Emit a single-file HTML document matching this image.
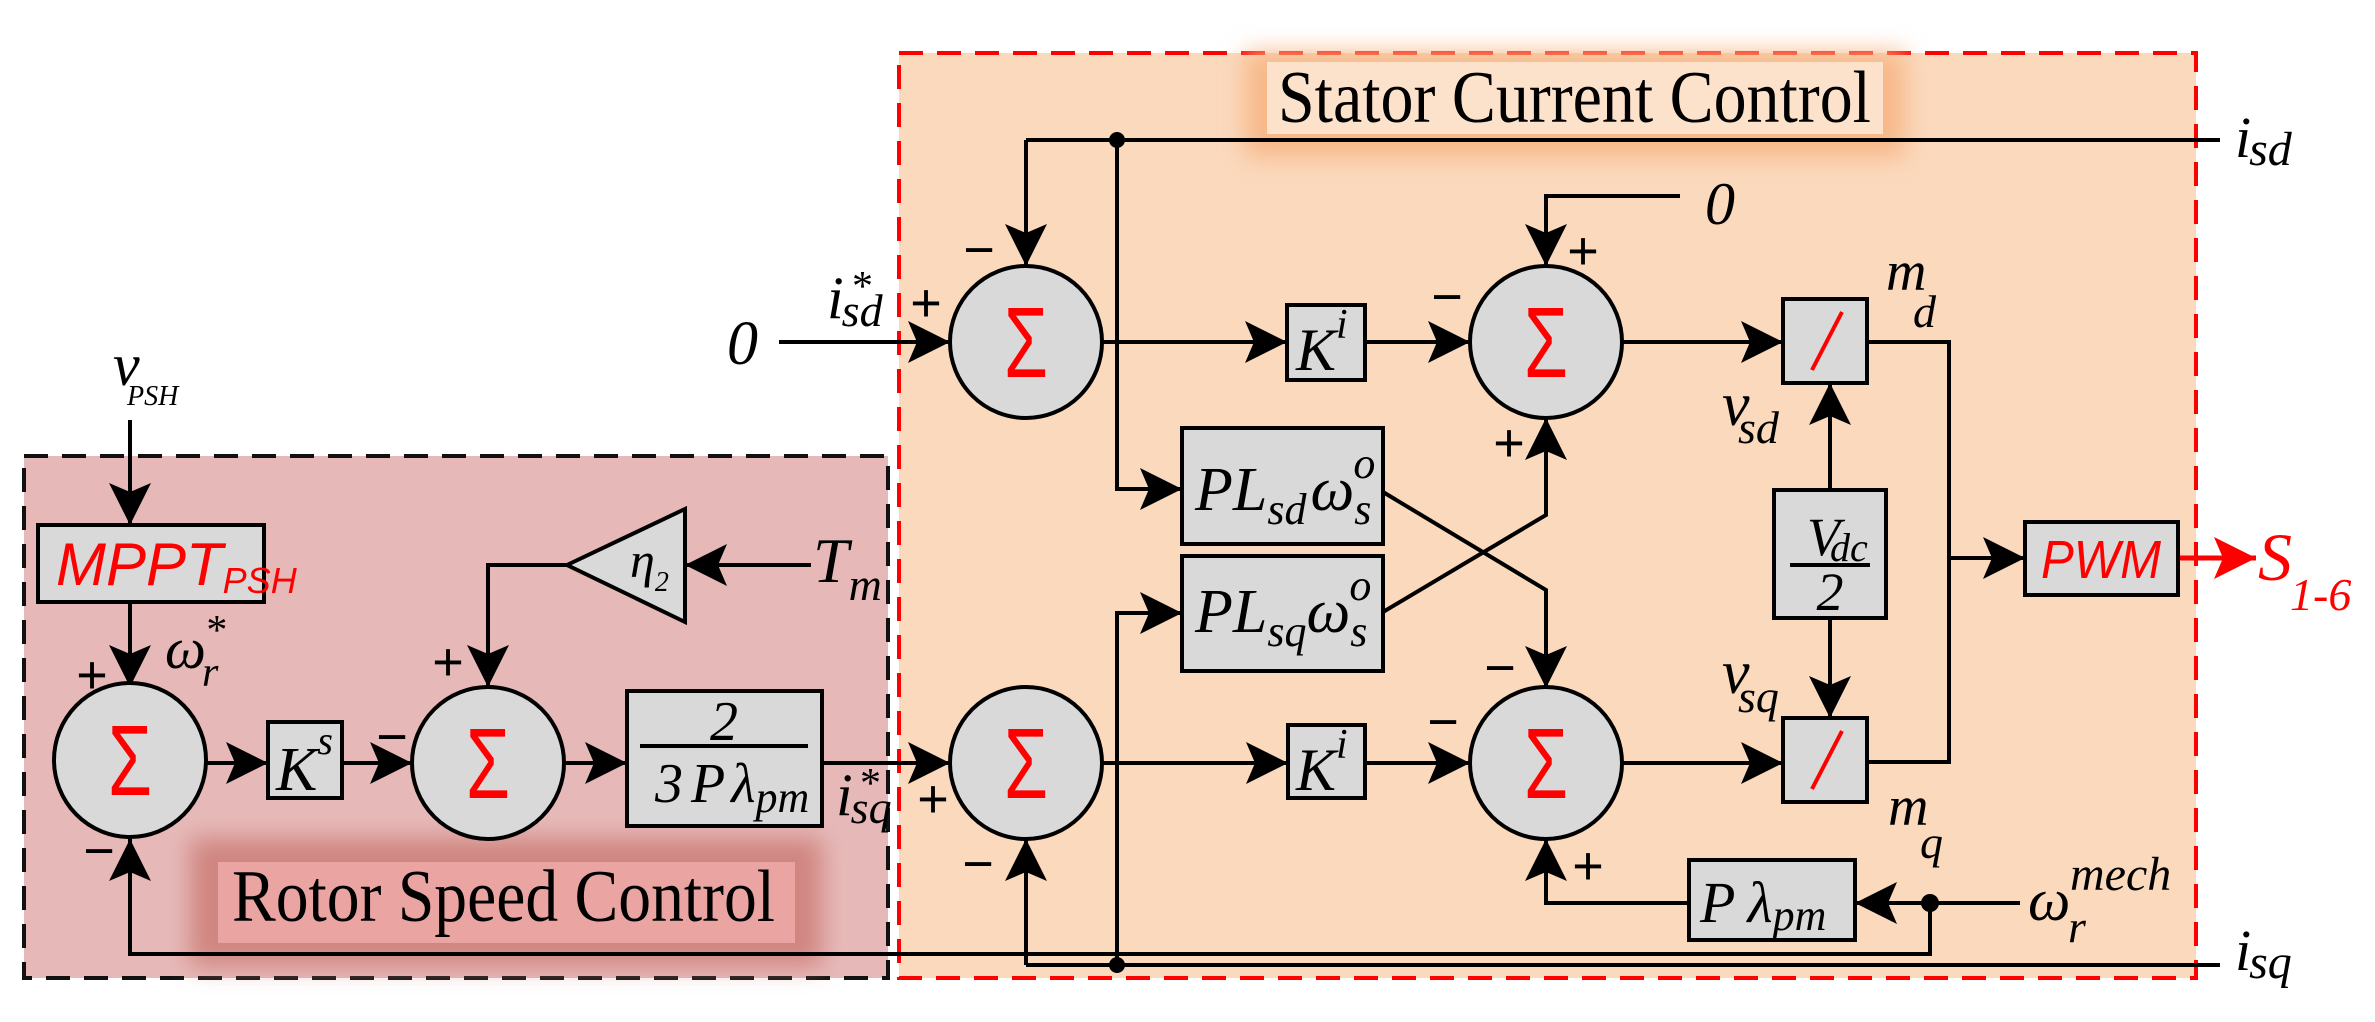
<!DOCTYPE html>
<html><head><meta charset="utf-8"><style>
html,body{margin:0;padding:0;background:#fff}
svg{display:block}
.m{font-family:"Liberation Serif",serif;font-style:italic;fill:#000}
.t{font-family:"Liberation Serif",serif;font-style:normal;fill:#000}
.s{font-family:"Liberation Sans",sans-serif;fill:#000}
.sig{font-family:"Liberation Sans",sans-serif;fill:#f00;font-size:100px;text-anchor:middle}
.ln{fill:none;stroke:#000;stroke-width:4}
.bx{fill:#d9d9d9;stroke:#000;stroke-width:4}
.sg{font-family:"Liberation Sans",sans-serif;font-size:54px;text-anchor:middle;dominant-baseline:central}
</style></head><body>
<svg width="2375" height="1022" viewBox="0 0 2375 1022" xmlns="http://www.w3.org/2000/svg">
<defs>
<marker id="a" markerWidth="42" markerHeight="42" refX="42" refY="21" orient="auto" markerUnits="userSpaceOnUse"><path d="M0,0 L42,21 L0,42 L9,21 Z" fill="#000"/></marker>
<marker id="r" markerWidth="42" markerHeight="42" refX="42" refY="21" orient="auto" markerUnits="userSpaceOnUse"><path d="M0,0 L42,21 L0,42 L9,21 Z" fill="#f00"/></marker>
<filter id="bl" x="-20%" y="-50%" width="140%" height="200%"><feGaussianBlur stdDeviation="12"/></filter>
</defs>
<!-- regions -->
<rect x="24" y="456" width="864" height="522" fill="#e6b9b8" stroke="#111" stroke-width="4" stroke-dasharray="24,14"/>
<rect x="899" y="53" width="1297" height="925" fill="#fbd9bd" stroke="#f00" stroke-width="4" stroke-dasharray="24,14"/>
<rect x="1245" y="52" width="660" height="105" fill="#f7b888" filter="url(#bl)"/>
<rect x="1267" y="62" width="616" height="72" fill="#fde2cb"/>
<rect x="190" y="838" width="632" height="128" fill="#d08580" filter="url(#bl)"/>
<rect x="218" y="862" width="577" height="81" fill="#eaa5a2"/>
<text class="t" x="1278" y="122" font-size="74" textLength="593" lengthAdjust="spacingAndGlyphs">Stator Current Control</text>
<text class="t" x="232" y="921" font-size="74" textLength="543" lengthAdjust="spacingAndGlyphs">Rotor Speed Control</text>

<!-- connectors -->
<path class="ln" d="M1026,140 H2220"/>
<path class="ln" d="M1026,140 V266" marker-end="url(#a)"/>
<path class="ln" d="M1117,140 V489 H1182" marker-end="url(#a)"/>
<path class="ln" d="M779,342 H950" marker-end="url(#a)"/>
<path class="ln" d="M1102,342 H1287" marker-end="url(#a)"/>
<path class="ln" d="M1365,342 H1470" marker-end="url(#a)"/>
<path class="ln" d="M1622,342 H1783" marker-end="url(#a)"/>
<path class="ln" d="M1680,196 H1546 V266" marker-end="url(#a)"/>
<path class="ln" d="M1867,342 H1949 V762 H1867"/>
<path class="ln" d="M1949,558 H2025" marker-end="url(#a)"/>
<path d="M2178,558 H2256" fill="none" stroke="#f00" stroke-width="5" marker-end="url(#r)"/>
<path class="ln" d="M1830,490 V383" marker-end="url(#a)"/>
<path class="ln" d="M1830,618 V718" marker-end="url(#a)"/>
<path class="ln" d="M1383,492 L1546,590 V688" marker-end="url(#a)"/>
<path class="ln" d="M1383,612 L1546,515 V418" marker-end="url(#a)"/>
<path class="ln" d="M130,420 V525" marker-end="url(#a)"/>
<path class="ln" d="M130,602 V687" marker-end="url(#a)"/>
<path class="ln" d="M206,763 H268" marker-end="url(#a)"/>
<path class="ln" d="M342,763 H412" marker-end="url(#a)"/>
<path class="ln" d="M564,763 H627" marker-end="url(#a)"/>
<path class="ln" d="M822,763 H950" marker-end="url(#a)"/>
<path class="ln" d="M1102,763 H1288" marker-end="url(#a)"/>
<path class="ln" d="M1365,763 H1470" marker-end="url(#a)"/>
<path class="ln" d="M1622,763 H1783" marker-end="url(#a)"/>
<path class="ln" d="M811,565 H685" marker-end="url(#a)"/>
<path class="ln" d="M567,565 H488 V687" marker-end="url(#a)"/>
<path class="ln" d="M1117,965 V613 H1182" marker-end="url(#a)"/>
<path class="ln" d="M2020,903 H1855" marker-end="url(#a)"/>
<path class="ln" d="M1930,903 V954 H130 V839" marker-end="url(#a)"/>
<path class="ln" d="M1689,903 H1546 V839" marker-end="url(#a)"/>
<path class="ln" d="M1026,965 V839" marker-end="url(#a)"/>
<path class="ln" d="M1026,965 H2220"/>
<circle cx="1117" cy="140" r="8"/>
<circle cx="1117" cy="965" r="8"/>
<circle cx="1930" cy="903" r="9"/>

<!-- sums -->
<ellipse class="bx" cx="130" cy="760" rx="76" ry="77"/>
<ellipse class="bx" cx="488" cy="763" rx="76" ry="76"/>
<ellipse class="bx" cx="1026" cy="342" rx="76" ry="76"/>
<ellipse class="bx" cx="1026" cy="763" rx="76" ry="76"/>
<ellipse class="bx" cx="1546" cy="342" rx="76" ry="76"/>
<ellipse class="bx" cx="1546" cy="763" rx="76" ry="76"/>
<text class="sig" x="130" y="795" textLength="44" lengthAdjust="spacingAndGlyphs">Σ</text>
<text class="sig" x="488" y="798" textLength="44" lengthAdjust="spacingAndGlyphs">Σ</text>
<text class="sig" x="1026" y="377" textLength="44" lengthAdjust="spacingAndGlyphs">Σ</text>
<text class="sig" x="1026" y="798" textLength="44" lengthAdjust="spacingAndGlyphs">Σ</text>
<text class="sig" x="1546" y="377" textLength="44" lengthAdjust="spacingAndGlyphs">Σ</text>
<text class="sig" x="1546" y="798" textLength="44" lengthAdjust="spacingAndGlyphs">Σ</text>

<!-- blocks -->
<rect class="bx" x="38" y="525" width="226" height="77"/>
<text x="56" y="585" font-family="Liberation Sans,sans-serif" font-style="italic" font-size="60" fill="#f00">MPPT<tspan font-size="36" dy="8">PSH</tspan></text>
<rect class="bx" x="268" y="722" width="74" height="76"/>
<text class="m" x="276" y="790" font-size="62">K<tspan font-size="40" dy="-36">s</tspan></text>
<rect class="bx" x="627" y="691" width="195" height="135"/>
<text class="m" x="724" y="740" font-size="56" text-anchor="middle">2</text>
<line x1="640" y1="746" x2="808" y2="746" stroke="#000" stroke-width="4"/>
<text class="m" x="655" y="802" font-size="56">3<tspan dx="8">P</tspan><tspan dx="6">λ</tspan><tspan font-size="44" dy="10">pm</tspan></text>
<polygon points="567,565 685,509 685,622" fill="#d9d9d9" stroke="#000" stroke-width="4"/>
<text class="m" x="630" y="577" font-size="50">η<tspan font-size="28" dy="14">2</tspan></text>
<rect class="bx" x="1287" y="305" width="78" height="75"/>
<text class="m" x="1296" y="370" font-size="60">K<tspan font-size="42" dy="-32">i</tspan></text>
<rect class="bx" x="1288" y="725" width="77" height="73"/>
<text class="m" x="1296" y="790" font-size="60">K<tspan font-size="42" dy="-32">i</tspan></text>
<rect class="bx" x="1182" y="428" width="201" height="116"/>
<text class="m" x="1195" y="510" font-size="62">PL<tspan font-size="44" dy="14">sd</tspan><tspan dx="4" dy="-14">ω</tspan><tspan font-size="44" dy="14">s</tspan><tspan font-size="44" dx="-18" dy="-46">o</tspan></text>
<rect class="bx" x="1182" y="556" width="201" height="115"/>
<text class="m" x="1195" y="632" font-size="62">PL<tspan font-size="44" dy="14">sq</tspan><tspan dy="-14">ω</tspan><tspan font-size="44" dy="14">s</tspan><tspan font-size="44" dx="-18" dy="-46">o</tspan></text>
<rect class="bx" x="1783" y="299" width="84" height="84"/>
<line x1="1812" y1="370" x2="1842" y2="312" stroke="#f00" stroke-width="4"/>
<rect class="bx" x="1783" y="718" width="84" height="84"/>
<line x1="1812" y1="789" x2="1842" y2="731" stroke="#f00" stroke-width="4"/>
<rect class="bx" x="1774" y="490" width="112" height="128"/>
<text class="m" x="1807" y="555" font-size="54">V<tspan font-size="40" dx="-10" dy="6">dc</tspan></text>
<line x1="1790" y1="565" x2="1870" y2="565" stroke="#000" stroke-width="4"/>
<text class="m" x="1830" y="610" font-size="54" text-anchor="middle">2</text>
<rect class="bx" x="2025" y="522" width="153" height="73"/>
<text x="2041" y="578" font-family="Liberation Sans,sans-serif" font-style="italic" font-size="54" fill="#f00" textLength="120" lengthAdjust="spacingAndGlyphs">PWM</text>
<rect class="bx" x="1689" y="860" width="166" height="80"/>
<text class="m" x="1700" y="922" font-size="58">P<tspan dx="12">λ</tspan><tspan font-size="44" dy="8">pm</tspan></text>

<!-- labels -->
<text class="m" x="113" y="385" font-size="60">v</text>
<text class="m" x="127" y="405" font-size="28">PSH</text>
<text class="m" x="165" y="668" font-size="58">ω<tspan font-size="42" dx="-4" dy="18">r</tspan><tspan font-size="42" dx="-14" dy="-42">*</tspan></text>
<text class="m" x="813" y="582" font-size="64">T<tspan font-size="46" dy="18">m</tspan></text>
<text class="m" x="727" y="364" font-size="62">0</text>
<text class="m" x="827" y="318" font-size="60">i<tspan font-size="46" dx="-2" dy="8">sd</tspan></text>
<text class="m" x="850" y="300" font-size="42">*</text>
<text class="m" x="836" y="815" font-size="60">i<tspan font-size="46" dx="-2" dy="8">sq</tspan></text>
<text class="m" x="858" y="797" font-size="42">*</text>
<text class="m" x="1705" y="224" font-size="60">0</text>
<text class="m" x="1722" y="425" font-size="62">v</text>
<text class="m" x="1738" y="443" font-size="46">sd</text>
<text class="m" x="1722" y="693" font-size="62">v</text>
<text class="m" x="1738" y="712" font-size="46">sq</text>
<text class="m" x="1886" y="290" font-size="56">m</text>
<text class="m" x="1913" y="327" font-size="46">d</text>
<text class="m" x="1888" y="825" font-size="56">m</text>
<text class="m" x="1920" y="858" font-size="46">q</text>
<text class="m" x="2258" y="580" font-size="68" style="fill:#f00">S</text>
<text class="m" x="2290" y="610" font-size="46" style="fill:#f00">1-6</text>
<text class="m" x="2235" y="157" font-size="58">i<tspan font-size="48" dx="-2" dy="8">sd</tspan></text>
<text class="m" x="2235" y="970" font-size="58">i<tspan font-size="48" dx="-2" dy="8">sq</tspan></text>
<text class="m" x="2028" y="920" font-size="60">ω</text>
<text class="m" x="2070" y="890" font-size="48">mech</text>
<text class="m" x="2068" y="942" font-size="46">r</text>

<!-- signs -->
<text class="sg" x="92" y="675">+</text>
<text class="sg" x="99" y="851">−</text>
<text class="sg" x="392" y="737">−</text>
<text class="sg" x="448" y="662">+</text>
<text class="sg" x="979" y="250">−</text>
<text class="sg" x="926" y="303">+</text>
<text class="sg" x="1583" y="251">+</text>
<text class="sg" x="1447" y="297">−</text>
<text class="sg" x="1509" y="443">+</text>
<text class="sg" x="1500" y="668">−</text>
<text class="sg" x="1443" y="722">−</text>
<text class="sg" x="1588" y="866">+</text>
<text class="sg" x="933" y="799">+</text>
<text class="sg" x="978" y="864">−</text>
</svg>
</body></html>
